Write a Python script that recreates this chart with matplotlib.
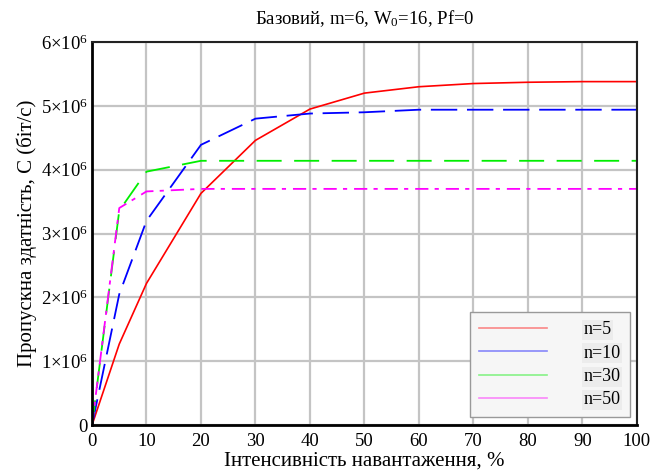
import matplotlib
matplotlib.use("Agg")
import matplotlib.pyplot as plt
from matplotlib.lines import Line2D
from matplotlib.ticker import FuncFormatter, MultipleLocator

plt.rcParams['font.family'] = ['Liberation Serif', 'DejaVu Serif']
plt.rcParams['mathtext.fontset'] = 'custom'
plt.rcParams['mathtext.rm'] = 'Liberation Serif'
plt.rcParams['mathtext.it'] = 'Liberation Serif:italic'
plt.rcParams['lines.scale_dashes'] = False

# intensity, %
load = [0, 5, 10, 20, 30, 40, 50, 60, 70, 80, 90, 100]

# throughput C, bit/s
c_n5 = [0, 1.27e6, 2.22e6, 3.63e6, 4.46e6, 4.95e6, 5.20e6, 5.30e6, 5.35e6, 5.37e6, 5.38e6, 5.38e6]
c_n10 = [0, 2.05e6, 3.20e6, 4.39e6, 4.80e6, 4.88e6, 4.90e6, 4.94e6, 4.94e6, 4.94e6, 4.94e6, 4.94e6]
c_n30 = [0, 3.36e6, 3.97e6, 4.14e6, 4.14e6, 4.14e6, 4.14e6, 4.14e6, 4.14e6, 4.14e6, 4.14e6, 4.14e6]
c_n50 = [0, 3.40e6, 3.66e6, 3.70e6, 3.70e6, 3.70e6, 3.70e6, 3.70e6, 3.70e6, 3.70e6, 3.70e6, 3.70e6]

labels = ['n=5', 'n=10', 'n=30', 'n=50']
colors = ['#ff0000', '#0000ff', '#00ee00', '#ff00ff']

fig = plt.figure(figsize=(6.54, 4.75), dpi=100)
ax = fig.add_axes([0.1407, 0.105, 0.833, 0.8065])

ax.plot(load, c_n5, color=colors[0], lw=1.2)
ax.plot(load, c_n10, color=colors[1], lw=1.3, dashes=(19, 7))
ax.plot(load, c_n30, color=colors[2], lw=1.3, dashes=(18, 9))
ax.plot(load, c_n50, color=colors[3], lw=1.3, dashes=(9.5, 4.5, 3, 5))

ax.set_xlim(0, 100)
ax.set_ylim(0, 6e6)
ax.xaxis.set_major_locator(MultipleLocator(10))
ax.yaxis.set_major_locator(MultipleLocator(1e6))


def sci(v, pos):
    k = int(round(v / 1e6))
    if k == 0:
        return '0'
    return f'{k}×10$^{{6}}$'


ax.yaxis.set_major_formatter(FuncFormatter(sci))
ax.grid(True, color='#c4c4c4', lw=1.6)
ax.set_axisbelow(True)
ax.tick_params(length=0, labelsize=13.5)
ax.tick_params(axis='x', pad=6)
ax.tick_params(axis='y', pad=3)
for side in ['left', 'bottom']:
    ax.spines[side].set_linewidth(2)
for side in ['top', 'right']:
    ax.spines[side].set_linewidth(1.5)
    ax.spines[side].set_color('#222222')

ax.set_title('Базовий, m=6, W$_{0}$=16, Pf=0', fontsize=13.5, pad=13)
ax.set_xlabel('Інтенсивність навантаження, %', fontsize=15, labelpad=1)
ax.set_ylabel('Пропускна здатність, C (біт/с)', fontsize=15, labelpad=3)

handles = [Line2D([], [], color=c, lw=1.2, alpha=0.45) for c in colors]
leg = ax.legend(handles, labels, loc='lower right', bbox_to_anchor=(0.987, 0.02),
                borderaxespad=0, fontsize=13, handlelength=3.8, handletextpad=2.0,
                labelspacing=0.35, fancybox=False, framealpha=1,
                facecolor='#f6f6f6', edgecolor='#999999', borderpad=0.5)
for t in leg.get_texts():
    t.set_bbox(dict(facecolor='#ececec', edgecolor='none', pad=1))

fig.savefig('out.png', dpi=100)
